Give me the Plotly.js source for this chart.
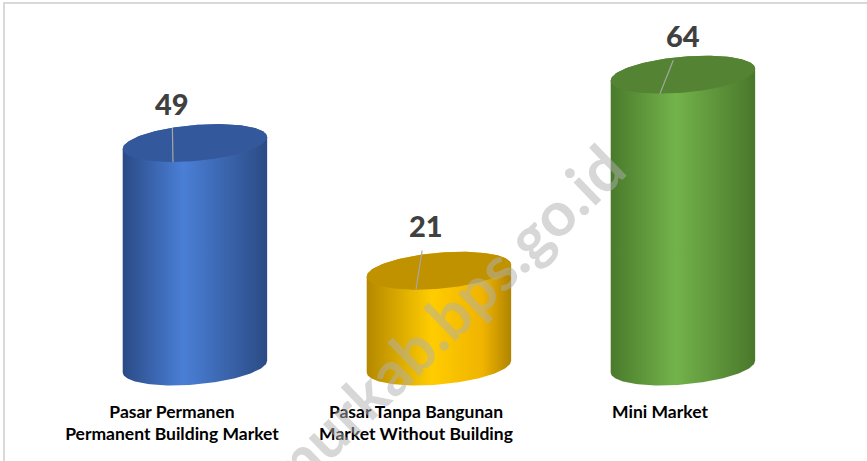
<!DOCTYPE html>
<html>
<head>
<meta charset="utf-8">
<script src="https://cdn.plot.ly/plotly-3.0.1.min.js"></script>
<style>html,body{margin:0;padding:0;background:#fff;}#chart{width:867px;height:461px;}</style>
</head>
<body>
<div id="chart"></div>
<script>
// ---- data ----
const categories = [
  "Pasar Permanen<br>Permanent Building Market",
  "Pasar Tanpa Bangunan<br>Market Without Building",
  "Mini Market"
];
const values = [49, 21, 64];
const valueLabels = ["49", "21", "64"];
const watermark = "timurkab.bps.go.id";

// ---- style ----
const bodyColors = [
  [[0, "#2a4a86"], [0.42, "#4a7fd6"], [1, "#2b4b85"]],
  [[0, "#b48800"], [0.45, "#ffcc00"], [0.8, "#f0b400"], [1, "#b08400"]],
  [[0, "#4a7a2b"], [0.45, "#73b34b"], [1, "#4a772b"]]
];
const topColors = ["#34589c", "#c09200", "#558334"];
const depthShift = 0.094;   // 3D offset of the cylinders from the category position
const halfW = 0.296;        // cylinder radius in category units
const ellB = 3.95;          // ellipse semi-minor in value units
const shear = 1.3;          // perspective tilt of the ellipses (value units at the rim)
const labelTip = [-0.09, -0.094, -0.094];
const labelOff = [[-1, -59], [10, -64], [23, -58]];

function ell(cx, cy, t) {
  return [cx + halfW * Math.cos(t), cy + ellB * Math.sin(t) + shear * Math.cos(t)];
}

const traces = [];
const annotations = [];
const N = 80;
values.forEach((v, i) => {
  const cx = i + depthShift;
  const bx = [], by = [];
  for (let k = 0; k <= N; k++) {
    const t = Math.PI + (Math.PI * k) / N;
    const p = ell(cx, 0, t);
    bx.push(p[0]); by.push(p[1]);
  }
  for (let k = 0; k <= N; k++) {
    const t = (Math.PI * k) / N;
    const p = ell(cx, v, t);
    bx.push(p[0]); by.push(p[1]);
  }
  traces.push({
    type: "scatter", mode: "lines", x: bx, y: by, fill: "toself",
    line: {width: 0, color: "rgba(0,0,0,0)"},
    fillgradient: {type: "horizontal", colorscale: bodyColors[i]},
    hoverinfo: "skip", showlegend: false
  });
  const tx = [], ty = [];
  for (let k = 0; k <= 2 * N; k++) {
    const t = (Math.PI * k) / N;
    const p = ell(cx, v, t);
    tx.push(p[0]); ty.push(p[1]);
  }
  traces.push({
    type: "scatter", mode: "lines", x: tx, y: ty, fill: "toself",
    fillcolor: topColors[i], line: {width: 0, color: "rgba(0,0,0,0)"},
    hoverinfo: "skip", showlegend: false
  });
  const dx = labelTip[i];
  const c = dx / halfW;
  const tipY = v - ellB * Math.sqrt(1 - c * c) + shear * c;
  annotations.push({
    x: cx + dx, y: tipY, xref: "x", yref: "y",
    text: valueLabels[i], showarrow: true, arrowhead: 0, arrowwidth: 1.2,
    arrowcolor: "#a6a6a6", ax: labelOff[i][0], ay: labelOff[i][1],
    startstandoff: 6,
    font: {family: "Lato, sans-serif", size: 29, color: "#404040", weight: 900}
  });
});

// watermark
annotations.push({
  xref: "paper", yref: "paper", x: 429 / 867, y: (399 - 333) / 389,
  xanchor: "center", yanchor: "middle",
  text: watermark, showarrow: false, textangle: -44,
  font: {family: "Lato, sans-serif", size: 62, color: "rgba(175,175,175,0.5)", weight: "bold"}
});

const layout = {
  width: 867, height: 461,
  margin: {l: 0, r: 0, t: 10, b: 62},
  paper_bgcolor: "#ffffff", plot_bgcolor: "rgba(0,0,0,0)",
  showlegend: false,
  xaxis: {
    range: [-0.7049, 2.8484], tickvals: [0, 1, 2], ticktext: categories,
    showgrid: false, zeroline: false, showline: false, ticks: "",
    tickfont: {family: "Lato, sans-serif", size: 17.5, color: "#000000", weight: "bold"},
    fixedrange: true
  },
  yaxis: {
    range: [-7.13, 78.18], showgrid: false, zeroline: false, showline: false,
    showticklabels: false, ticks: "", fixedrange: true
  },
  shapes: [{
    type: "rect", xref: "paper", yref: "paper",
    x0: 4 / 867, x1: 1.05, y0: -0.4, y1: 1 + 7 / 389,
    line: {color: "#d9d9d9", width: 2}, fillcolor: "rgba(0,0,0,0)", layer: "below"
  }],
  annotations: annotations
};

Plotly.newPlot("chart", traces, layout, {displayModeBar: false, staticPlot: true});
</script>
</body>
</html>
